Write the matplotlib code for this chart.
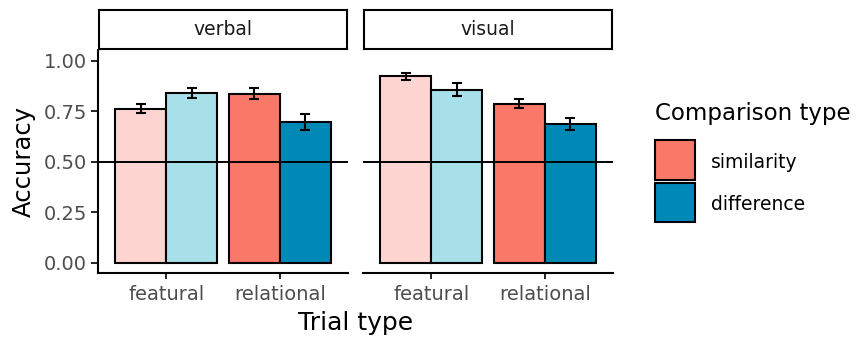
import numpy as np
import matplotlib.pyplot as plt
from matplotlib.patches import Rectangle

plt.rcParams['font.family'] = ['DejaVu Sans']

# data
panels = ['verbal', 'visual']
trial_types = ['featural', 'relational']
comparison = ['similarity', 'difference']

# accuracy[panel][trial] = (similarity, difference)
acc_verbal = [[0.762, 0.841], [0.836, 0.698]]
acc_visual = [[0.924, 0.858], [0.789, 0.687]]
lo_verbal = [[0.740, 0.815], [0.810, 0.658]]
hi_verbal = [[0.788, 0.868], [0.864, 0.735]]
lo_visual = [[0.906, 0.828], [0.766, 0.658]]
hi_visual = [[0.942, 0.890], [0.812, 0.716]]

# featural bars are pale versions, relational bars full colour
colors = {
    'featural': ['#FFD5D2', '#A8E0EA'],
    'relational': ['#FA7867', '#0089B6'],
}
legend_colors = ['#FA7867', '#0089B6']

acc = [acc_verbal, acc_visual]
lo = [lo_verbal, lo_visual]
hi = [hi_verbal, hi_visual]

W, H = 862, 340
fig = plt.figure(figsize=(W / 100, H / 100), dpi=100)


def fx(px):
    return px / W


def fy(py):
    return 1 - py / H


ax_bottom = fy(273)
ax_height = (273 - 50) / H
lefts = [98, 363]
width = 250

tick_grey = '#4D4D4D'
bw = 0.45

for p, name in enumerate(panels):
    ax = fig.add_axes([fx(lefts[p]), ax_bottom, width / W, ax_height])
    x = np.arange(1, len(trial_types) + 1)
    for t, tt in enumerate(trial_types):
        for c in range(len(comparison)):
            xpos = x[t] + (c - 0.5) * bw
            val = acc[p][t][c]
            ax.bar(xpos, val, width=bw, color=colors[tt][c], edgecolor='black',
                   linewidth=1.5, zorder=2)
            ax.errorbar(xpos, val, yerr=[[val - lo[p][t][c]], [hi[p][t][c] - val]],
                        fmt='none', ecolor='black', elinewidth=1.5, capsize=3.3,
                        capthick=1.5, zorder=3)
    ax.axhline(0.5, color='black', lw=1.4, zorder=4)
    ax.set_xlim(0.4, 2.6)
    ax.set_ylim(-0.0495, 1.054)
    ax.set_xticks(x)
    ax.set_xticklabels(trial_types, fontsize=14, color=tick_grey)
    ax.tick_params(axis='x', length=4, width=1.2, pad=4.5)
    for s in ['top', 'right']:
        ax.spines[s].set_visible(False)
    ax.spines['bottom'].set_linewidth(1.5)
    if p == 0:
        ax.set_yticks([0, 0.25, 0.5, 0.75, 1.0])
        ax.set_yticklabels(['0.00', '0.25', '0.50', '0.75', '1.00'],
                           fontsize=14, color=tick_grey)
        ax.tick_params(axis='y', length=5, width=1.2, pad=3)
        ax.spines['left'].set_linewidth(1.5)
    else:
        ax.spines['left'].set_visible(False)
        ax.set_yticks([])

    # facet strip
    sax = fig.add_axes([fx(lefts[p]) + 0.001, fy(49), width / W - 0.002, 39 / H])
    sax.set_xticks([])
    sax.set_yticks([])
    for s in sax.spines.values():
        s.set_linewidth(1.5)
    sax.text(0.5, 0.5, name, ha='center', va='center', fontsize=13.5,
             color='#1A1A1A', transform=sax.transAxes)

fig.text(fx(24), fy(161), 'Accuracy', rotation=90, ha='center', va='center',
         fontsize=17.5)
fig.text(fx(356), fy(323), 'Trial type', ha='center', va='center', fontsize=18)

# legend drawn by hand so the keys get ggplot's size
fig.text(fx(655), fy(120), 'Comparison type', ha='left', va='baseline',
         fontsize=16.5)
key_top = [140, 182.5]
for i, lab in enumerate(comparison):
    fig.add_artist(Rectangle((fx(655), fy(key_top[i] + 39.5)), 40 / W, 39.5 / H,
                             transform=fig.transFigure, facecolor=legend_colors[i],
                             edgecolor='black', linewidth=1.5))
    fig.text(fx(711), fy(key_top[i] + 27.5), lab, ha='left', va='baseline',
             fontsize=13.5)

fig.savefig('out.png', dpi=100)
